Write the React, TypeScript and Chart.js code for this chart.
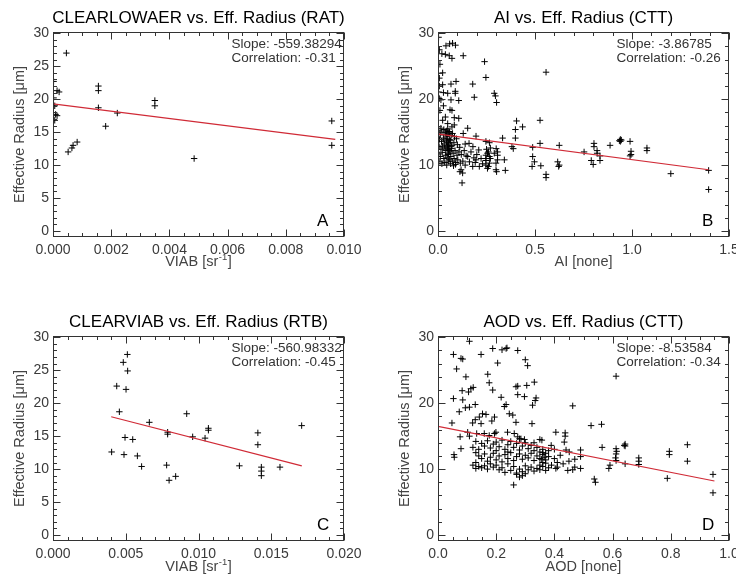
import React, { useEffect, useRef } from 'react';
import { Chart, registerables } from 'chart.js';

Chart.register(...registerables);

// ---------- Data ----------
const yTicks = [0, 5, 10, 15, 20, 25, 30];
const yTicksWide = [0, 10, 20, 30];

const aTicksX = [0, 0.002, 0.004, 0.006, 0.008, 0.01];
const bTicksX = [0, 0.5, 1.0, 1.5];
const cTicksX = [0, 0.005, 0.01, 0.015, 0.02];
const dTicksX = [0, 0.2, 0.4, 0.6, 0.8, 1.0];

const aPoints: [number, number][] = [
  [0.00046, 27.0], [0.00014, 21.3], [0.00021, 21.1], [0.00006, 19.0], [0.00009, 17.7],
  [0.00014, 17.5], [0.00006, 16.8], [0.00002, 22.7], [0.00002, 20.2], [0.00052, 12.0],
  [0.00065, 12.6], [0.00069, 13.0], [0.00083, 13.5], [0.00156, 22.0], [0.00156, 21.3],
  [0.00156, 18.7], [0.00181, 15.9], [0.00221, 17.9], [0.0035, 19.8], [0.0035, 19.0],
  [0.00485, 11.0], [0.00958, 16.7], [0.00958, 13.0],
];
const aLine: [number, number][] = [[0.0, 19.3], [0.0097, 13.9]];

const bPoints: [number, number][] = [
  [0.003, 29.4], [0.06, 28.4], [0.075, 28.5], [0.09, 28.2], [0.041, 28.1], [0.007, 27.5],
  [0.02, 26.9], [0.038, 26.8], [0.058, 26.6], [0.072, 26.2], [0.13, 26.6], [0.24, 25.7],
  [0.01, 25.3], [0.024, 24.0], [0.247, 23.3], [0.557, 24.1], [0.007, 23.2], [0.024, 22.2],
  [0.007, 22.0], [0.067, 22.3], [0.093, 22.7], [0.179, 22.3], [0.003, 21.1], [0.028, 21.0],
  [0.05, 20.9], [0.089, 21.2], [0.089, 20.9], [0.29, 20.9], [0.296, 20.5], [0.187, 20.3],
  [0.007, 20.1], [0.015, 19.9], [0.067, 19.9], [0.107, 19.8], [0.302, 19.5], [0.028, 19.0],
  [0.062, 18.4], [0.072, 18.3], [0.01, 18.3], [0.038, 17.3], [0.084, 17.2], [0.107, 17.1],
  [0.024, 16.8], [0.05, 16.3], [0.072, 15.8], [0.084, 16.1], [0.153, 15.6], [0.13, 14.8],
  [0.015, 15.6], [0.405, 16.7], [0.436, 15.8], [0.399, 15.4], [0.399, 14.1], [0.526, 16.8],
  [0.526, 13.3], [0.196, 14.4], [0.247, 13.6], [0.265, 13.4], [0.333, 14.1], [0.381, 12.8],
  [0.388, 12.5], [0.488, 12.7], [0.625, 13.0], [0.21, 12.3], [0.17, 12.0], [0.153, 11.3],
  [0.162, 10.5], [0.192, 10.4], [0.222, 11.0], [0.23, 10.2], [0.179, 9.8], [0.213, 9.8],
  [0.196, 10.8], [0.247, 11.5], [0.247, 11.0], [0.265, 11.3], [0.247, 10.7], [0.247, 10.0],
  [0.26, 9.8], [0.265, 10.3], [0.307, 12.0], [0.307, 11.5], [0.307, 10.8], [0.299, 10.3],
  [0.299, 9.3], [0.302, 9.0], [0.342, 10.8], [0.347, 9.2], [0.488, 11.3], [0.497, 10.5],
  [0.485, 9.8], [0.53, 9.9], [0.557, 8.6], [0.557, 8.1], [0.617, 10.5], [0.625, 10.0],
  [0.622, 9.8], [0.119, 9.3], [0.127, 8.8], [0.113, 9.0], [0.124, 7.3],
  [0.753, 12.0], [0.804, 13.3], [0.804, 12.8], [0.82, 12.2], [0.82, 11.8], [0.835, 11.4],
  [0.79, 10.7], [0.8, 10.1], [0.835, 10.7], [0.887, 13.0], [0.94, 13.9], [0.94, 13.6],
  [0.945, 13.8], [0.935, 13.7], [0.99, 13.6], [0.995, 12.1], [0.995, 11.6], [0.99, 11.4],
  [1.077, 12.6], [1.077, 12.2], [1.2, 8.7], [1.395, 9.2], [1.395, 6.3],
  [0.005, 15.2], [0.012, 14.6], [0.02, 15.0], [0.03, 15.4], [0.038, 14.9], [0.045, 15.2],
  [0.052, 14.7], [0.06, 15.0], [0.068, 14.5], [0.075, 14.8], [0.085, 14.3], [0.095, 14.0],
  [0.008, 13.9], [0.018, 13.6], [0.028, 14.1], [0.036, 13.8], [0.044, 13.5], [0.05, 14.0],
  [0.056, 13.2], [0.064, 13.7], [0.072, 13.0], [0.082, 13.4], [0.1, 13.1], [0.112, 12.7],
  [0.006, 12.8], [0.015, 12.4], [0.024, 12.9], [0.032, 12.6], [0.04, 12.2], [0.048, 12.8],
  [0.054, 12.4], [0.062, 12.0], [0.07, 12.5], [0.078, 11.8], [0.088, 12.2], [0.098, 11.5],
  [0.108, 12.0], [0.12, 11.6], [0.135, 12.2], [0.145, 11.4], [0.004, 11.7], [0.012, 11.3],
  [0.022, 11.9], [0.03, 11.0], [0.04, 11.5], [0.047, 11.1], [0.053, 11.8], [0.058, 10.9],
  [0.066, 11.3], [0.074, 10.6], [0.083, 11.0], [0.092, 10.4], [0.102, 10.8], [0.115, 10.3],
  [0.128, 10.6], [0.14, 10.0], [0.01, 10.6], [0.02, 10.2], [0.035, 10.4], [0.045, 10.0],
  [0.055, 10.6], [0.065, 10.2], [0.08, 9.9], [0.09, 10.1], [0.05, 13.0], [0.055, 13.4],
  [0.048, 12.6], [0.052, 11.6], [0.058, 12.2], [0.045, 14.4], [0.06, 13.9], [0.042, 14.7],
  [0.05, 15.5], [0.056, 15.1], [0.032, 13.2], [0.068, 12.8], [0.16, 13.3], [0.18, 12.8],
  [0.2, 11.6], [0.185, 11.1], [0.14, 13.2], [0.25, 12.4], [0.26, 12.0], [0.27, 12.6],
  [0.255, 11.8], [0.3, 12.5], [0.29, 11.8], [0.27, 11.0], [0.255, 9.5],
];
const bLine: [number, number][] = [[0.003, 14.7], [1.395, 9.3]];

const cPoints: [number, number][] = [
  [0.00403, 12.6], [0.00438, 22.6], [0.00456, 18.7], [0.00483, 26.2], [0.00488, 12.2],
  [0.00495, 14.8], [0.00502, 22.1], [0.00511, 27.4], [0.00513, 24.9], [0.00548, 14.5],
  [0.0058, 12.0], [0.00609, 10.4], [0.00662, 17.1], [0.00781, 10.6], [0.00788, 15.3],
  [0.00788, 15.6], [0.00798, 8.3], [0.00843, 8.9], [0.00919, 18.4], [0.0096, 14.9],
  [0.01045, 14.7], [0.01068, 16.2], [0.01068, 15.9], [0.01281, 10.5], [0.01408, 15.5],
  [0.01408, 13.7], [0.01432, 10.3], [0.01432, 9.7], [0.01432, 9.0], [0.0156, 10.3],
  [0.01709, 16.6],
];
const cLine: [number, number][] = [[0.004, 17.95], [0.0171, 10.5]];

const dPoints: [number, number][] = [
  [0.108, 29.4], [0.053, 27.4], [0.079, 26.8], [0.085, 26.7], [0.148, 27.4], [0.188, 28.3],
  [0.22, 28.1], [0.234, 28.3], [0.237, 28.4], [0.274, 28.0], [0.3, 26.6], [0.308, 25.7],
  [0.205, 26.1], [0.064, 25.2], [0.171, 24.4], [0.096, 24.0], [0.176, 23.1], [0.113, 22.2],
  [0.121, 22.4], [0.083, 21.9], [0.105, 21.7], [0.188, 22.0], [0.268, 22.5], [0.274, 22.6],
  [0.305, 22.7], [0.331, 23.2], [0.274, 21.3], [0.297, 21.0], [0.053, 20.7], [0.085, 20.5],
  [0.128, 19.8], [0.108, 19.4], [0.094, 19.3], [0.217, 20.9], [0.234, 19.8], [0.228, 19.5],
  [0.337, 20.8], [0.334, 20.4], [0.325, 19.7], [0.463, 19.6], [0.073, 18.7], [0.153, 18.4],
  [0.165, 18.3], [0.142, 17.9], [0.128, 17.5], [0.245, 18.4], [0.257, 18.2], [0.048, 17.0],
  [0.119, 17.0], [0.148, 16.9], [0.194, 17.9], [0.185, 17.3], [0.268, 17.1], [0.323, 16.9],
  [0.526, 16.6], [0.562, 16.8], [0.612, 24.1], [0.102, 15.6], [0.076, 14.9], [0.108, 15.0],
  [0.079, 13.1], [0.056, 11.8],
  [0.133, 15.4], [0.159, 15.4], [0.176, 15.1], [0.194, 15.4], [0.199, 15.6], [0.239, 15.6],
  [0.262, 15.4], [0.274, 14.9], [0.285, 14.6], [0.297, 14.5], [0.357, 14.4], [0.389, 13.6],
  [0.405, 15.6], [0.437, 15.5], [0.437, 15.0], [0.434, 14.1], [0.49, 12.9], [0.564, 13.3],
  [0.612, 13.1], [0.612, 12.3], [0.64, 13.6], [0.451, 12.6], [0.49, 11.9], [0.49, 10.1],
  [0.463, 9.9], [0.446, 9.8], [0.405, 10.1], [0.537, 8.5], [0.541, 8.0], [0.587, 10.1],
  [0.591, 10.6], [0.61, 11.7], [0.612, 11.3], [0.47, 10.3], [0.614, 12.7], [0.643, 13.8],
  [0.643, 13.5], [0.643, 10.8], [0.69, 11.7], [0.69, 11.2], [0.69, 10.7], [0.795, 12.7],
  [0.795, 12.2], [0.788, 8.6], [0.857, 13.7], [0.857, 11.2], [0.945, 9.2], [0.945, 6.4],
  [0.13, 14.2], [0.15, 13.9], [0.16, 13.5], [0.17, 14.3], [0.18, 13.2], [0.19, 13.8],
  [0.2, 14.1], [0.21, 13.4], [0.22, 14.4], [0.23, 13.0], [0.24, 13.7], [0.25, 14.2],
  [0.26, 13.3], [0.27, 13.9], [0.28, 12.9], [0.29, 13.5], [0.3, 14.0], [0.31, 13.1],
  [0.32, 13.6], [0.33, 12.8], [0.34, 13.3], [0.35, 12.6], [0.36, 13.0], [0.37, 12.4],
  [0.13, 12.5], [0.14, 12.0], [0.15, 11.6], [0.16, 12.3], [0.17, 11.2], [0.18, 11.8],
  [0.19, 12.4], [0.2, 11.4], [0.21, 12.0], [0.22, 11.1], [0.23, 12.2], [0.24, 11.6],
  [0.25, 12.5], [0.26, 11.3], [0.27, 11.9], [0.28, 12.3], [0.29, 11.5], [0.3, 12.1],
  [0.31, 11.7], [0.32, 12.4], [0.33, 11.3], [0.34, 12.0], [0.35, 11.6], [0.36, 12.2],
  [0.37, 11.4], [0.38, 11.9], [0.4, 11.6], [0.42, 12.1],
  [0.13, 11.0], [0.13, 10.1], [0.14, 10.4], [0.15, 10.2], [0.16, 10.5], [0.17, 10.0],
  [0.18, 10.8], [0.19, 10.3], [0.2, 10.6], [0.21, 9.9], [0.22, 10.2], [0.23, 9.5],
  [0.24, 10.8], [0.25, 9.8], [0.26, 10.4], [0.27, 9.4], [0.28, 10.0], [0.29, 9.6],
  [0.3, 10.5], [0.31, 9.9], [0.32, 10.3], [0.33, 9.7], [0.34, 10.1], [0.35, 9.9],
  [0.36, 10.4], [0.37, 9.8], [0.38, 10.2], [0.39, 10.6], [0.41, 10.3], [0.43, 10.8],
  [0.27, 9.2], [0.28, 8.8], [0.26, 7.6], [0.29, 9.0], [0.3, 9.3],
  [0.12, 13.3], [0.14, 13.0], [0.2, 12.8], [0.24, 12.6], [0.28, 14.6], [0.33, 14.0],
  [0.35, 14.5], [0.36, 11.0], [0.37, 10.9], [0.38, 12.8], [0.4, 13.0], [0.41, 11.0],
  [0.44, 12.9], [0.45, 11.2], [0.47, 11.5], [0.12, 10.6], [0.35, 10.6], [0.36, 12.5],
  [0.365, 11.8], [0.355, 11.5], [0.055, 12.2],
];
const dLine: [number, number][] = [[0.0, 16.5], [0.95, 8.2]];

const titles = [
  'CLEARLOWAER vs. Eff. Radius (RAT)',
  'AI vs. Eff. Radius (CTT)',
  'CLEARVIAB vs. Eff. Radius (RTB)',
  'AOD vs. Eff. Radius (CTT)',
];
const slopes = ['Slope: -559.38294', 'Slope: -3.86785', 'Slope: -560.98332', 'Slope: -8.53584'];
const correlations = ['Correlation: -0.31', 'Correlation: -0.26', 'Correlation: -0.45', 'Correlation: -0.34'];
const letters = ['A', 'B', 'C', 'D'];
const yTitle = 'Effective Radius [\u03BCm]';

const FONT = '"Liberation Sans", Arial, Helvetica, sans-serif';

interface PanelCfg {
  idx: number;
  col: number;
  row: number;
  points: [number, number][];
  line: [number, number][];
  xMax: number;
  xTicks: number[];
  xMinor: number;
  xDec: number;
  yMajorTicks: number[];
  yMinor: number;
  xTitleMain: string;
  xTitleSup: string;
  xTitleEnd: string;
}

const panels: PanelCfg[] = [
  { idx: 0, col: 0, row: 0, points: aPoints, line: aLine, xMax: 0.01, xTicks: aTicksX, xMinor: 0.0005, xDec: 3,
    yMajorTicks: yTicks, yMinor: 1, xTitleMain: 'VIAB [sr', xTitleSup: '-1', xTitleEnd: ']' },
  { idx: 1, col: 1, row: 0, points: bPoints, line: bLine, xMax: 1.5, xTicks: bTicksX, xMinor: 0.1, xDec: 1,
    yMajorTicks: yTicksWide, yMinor: 2, xTitleMain: 'AI [none]', xTitleSup: '', xTitleEnd: '' },
  { idx: 2, col: 0, row: 1, points: cPoints, line: cLine, xMax: 0.02, xTicks: cTicksX, xMinor: 0.001, xDec: 3,
    yMajorTicks: yTicks, yMinor: 1, xTitleMain: 'VIAB [sr', xTitleSup: '-1', xTitleEnd: ']' },
  { idx: 3, col: 1, row: 1, points: dPoints, line: dLine, xMax: 1.0, xTicks: dTicksX, xMinor: 0.05, xDec: 1,
    yMajorTicks: yTicksWide, yMinor: 2, xTitleMain: 'AOD [none]', xTitleSup: '', xTitleEnd: '' },
];

const W = 368;
const H = 289;

function Panel({ cfg }: { cfg: PanelCfg }) {
  const ref = useRef<HTMLCanvasElement>(null);
  useEffect(() => {
    const yAxisW = cfg.col === 0 ? 53 : 70;
    const padRight = cfg.col === 0 ? 24 : 7;
    const padTop = cfg.row === 0 ? 32 : 47;
    const xAxisH = cfg.row === 0 ? 40 : 37;
    const padBottom = cfg.row === 0 ? 12 : 0;
    const yMin = -0.91;
    const yMax = 30.2;

    const decor = {
      id: 'decor',
      afterDraw(chart: any) {
        const { ctx, chartArea: ca, scales } = chart;
        const xs = scales.x;
        const ys = scales.y;
        const L = Math.round(ca.left) + 0.5;
        const R = Math.round(ca.right) - 0.5;
        const T = Math.round(ca.top) + 0.5;
        const B = Math.round(ca.bottom) - 0.5;
        ctx.save();
        ctx.strokeStyle = '#333';
        ctx.lineWidth = 1;
        ctx.strokeRect(L, T, R - L, B - T);
        ctx.beginPath();
        // x ticks
        const nx = Math.round(cfg.xMax / cfg.xMinor);
        const subX = Math.round((cfg.xTicks[1] - cfg.xTicks[0]) / cfg.xMinor);
        for (let i = 0; i <= nx; i++) {
          const v = i * cfg.xMinor;
          const len = i % subX === 0 ? 7 : 3.5;
          const px = Math.round(xs.getPixelForValue(v)) + 0.5;
          ctx.moveTo(px, B);
          ctx.lineTo(px, B - len);
          ctx.moveTo(px, T);
          ctx.lineTo(px, T + len);
        }
        const ny = Math.round(30 / cfg.yMinor);
        const subY = Math.round((cfg.yMajorTicks[1] - cfg.yMajorTicks[0]) / cfg.yMinor);
        for (let i = 0; i <= ny; i++) {
          const v = i * cfg.yMinor;
          const len = i % subY === 0 ? 7 : 3.5;
          const py = Math.round(ys.getPixelForValue(v)) + 0.5;
          ctx.moveTo(L, py);
          ctx.lineTo(L + len, py);
          ctx.moveTo(R, py);
          ctx.lineTo(R - len, py);
        }
        ctx.stroke();

        const cx = (ca.left + ca.right) / 2;
        const cy = (ca.top + ca.bottom) / 2;
        // title
        ctx.fillStyle = '#000';
        ctx.font = `17px ${FONT}`;
        ctx.textAlign = 'center';
        ctx.textBaseline = 'middle';
        ctx.fillText(titles[cfg.idx], cx, ca.top - 13.5);

        // x title with optional superscript
        ctx.fillStyle = '#444';
        const mainFont = `14.5px ${FONT}`;
        const supFont = `9.5px ${FONT}`;
        ctx.font = mainFont;
        const w1 = ctx.measureText(cfg.xTitleMain).width;
        const w3 = ctx.measureText(cfg.xTitleEnd).width;
        ctx.font = supFont;
        const w2 = cfg.xTitleSup ? ctx.measureText(cfg.xTitleSup).width + 1 : 0;
        const total = w1 + w2 + w3;
        let x0 = cx - total / 2;
        const ty = ca.bottom + (cfg.row === 0 ? 25 : 26);
        ctx.textAlign = 'left';
        ctx.font = mainFont;
        ctx.fillText(cfg.xTitleMain, x0, ty);
        x0 += w1;
        if (cfg.xTitleSup) {
          ctx.font = supFont;
          ctx.fillText(cfg.xTitleSup, x0 + 0.5, ty - 5);
          x0 += w2;
          ctx.font = mainFont;
          ctx.fillText(cfg.xTitleEnd, x0, ty);
        }

        // y title
        ctx.save();
        ctx.translate(ca.left - 33.5, cy);
        ctx.rotate(-Math.PI / 2);
        ctx.textAlign = 'center';
        ctx.font = mainFont;
        ctx.fillText(yTitle, 0, 0);
        ctx.restore();

        // annotations
        ctx.fillStyle = '#333';
        ctx.font = `13.5px ${FONT}`;
        ctx.textAlign = 'left';
        ctx.fillText(slopes[cfg.idx], ca.left + 178.5, ca.top + 12);
        ctx.fillText(correlations[cfg.idx], ca.left + 178.5, ca.top + 26.5);

        // letter
        ctx.fillStyle = '#000';
        ctx.font = `17px ${FONT}`;
        ctx.fillText(letters[cfg.idx], ca.left + 264, ca.bottom - 15.5);
        ctx.restore();
      },
    };

    const chart = new Chart(ref.current as HTMLCanvasElement, {
      type: 'scatter',
      data: {
        datasets: [
          {
            type: 'line',
            data: cfg.line.map(([x, y]) => ({ x, y })),
            borderColor: '#d02a36',
            borderWidth: 1.2,
            pointRadius: 0,
            fill: false,
          } as any,
          {
            data: cfg.points.map(([x, y]) => ({ x, y })),
            pointStyle: 'cross',
            pointRadius: 3.2,
            borderColor: '#000',
            backgroundColor: '#000',
            borderWidth: 1,
            showLine: false,
          },
        ],
      },
      options: {
        responsive: false,
        animation: false,
        devicePixelRatio: 1,
        events: [],
        layout: { padding: { left: 0, right: padRight, top: padTop, bottom: padBottom } },
        plugins: { legend: { display: false }, tooltip: { enabled: false }, title: { display: false } },
        scales: {
          x: {
            type: 'linear',
            min: 0,
            max: cfg.xMax,
            grid: { display: false, drawTicks: false, tickLength: 0 },
            border: { display: false },
            ticks: {
              autoSkip: false,
              maxRotation: 0,
              minRotation: 0,
              padding: 5,
              color: '#3a3a3a',
              font: { family: FONT, size: 14 },
              callback: (v: any) => Number(v).toFixed(cfg.xDec),
            },
            afterBuildTicks: (s: any) => {
              s.ticks = cfg.xTicks.map((v) => ({ value: v }));
            },
            afterFit: (s: any) => {
              s.height = xAxisH;
              s.paddingLeft = 0;
              s.paddingRight = 0;
            },
          },
          y: {
            type: 'linear',
            min: yMin,
            max: yMax,
            grid: { display: false, drawTicks: false, tickLength: 0 },
            border: { display: false },
            ticks: {
              autoSkip: false,
              padding: 4,
              color: '#3a3a3a',
              font: { family: FONT, size: 14 },
              callback: (v: any) => String(v),
            },
            afterBuildTicks: (s: any) => {
              s.ticks = cfg.yMajorTicks.map((v) => ({ value: v }));
            },
            afterFit: (s: any) => {
              s.width = yAxisW;
              s.paddingTop = 0;
              s.paddingBottom = 0;
            },
          },
        },
      },
      plugins: [decor],
    });
    return () => chart.destroy();
  }, [cfg]);

  return (
    <canvas
      ref={ref}
      width={W}
      height={H}
      style={{ position: 'absolute', left: cfg.col * W, top: cfg.row * H, width: W, height: H, display: 'block' }}
    />
  );
}

export default function App() {
  return (
    <div style={{ position: 'fixed', left: 0, top: 0, width: 736, height: 578, background: '#fff', overflow: 'hidden' }}>
      {panels.map((p) => (
        <Panel key={p.idx} cfg={p} />
      ))}
    </div>
  );
}
